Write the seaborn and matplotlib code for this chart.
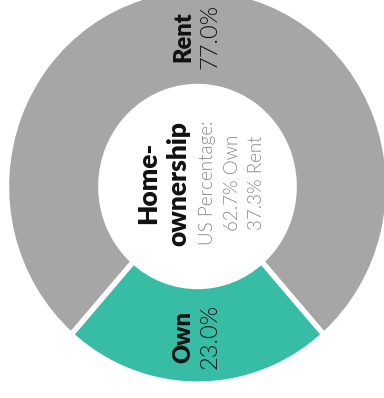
import numpy as np
import matplotlib
matplotlib.use("Agg")
import matplotlib.pyplot as plt
import seaborn as sns

# Homeownership split
categories = ["Rent", "Own"]
shares = [77.0, 23.0]
colors = ["#a6a6a6", "#37bca5"]
title_lines = ["Home-", "ownership"]
note_lines = ["US Percentage:", "62.7% Own", "37.3% Rent"]

sns.set_style("white")
plt.rcParams["font.family"] = ["Lato", "DejaVu Sans"]

W, H = 384, 398
fig = plt.figure(figsize=(W / 100, H / 100), dpi=100)
ax = fig.add_axes([0, 0, 1, 1])

# ring is drawn in unit coordinates; the axes stretch it slightly taller than wide
cx_px, cy_px = 197.5, 186.5
sx, sy = 188.5, 195.0
lw = 3.8

own_span = shares[1] * 3.6
start = 270 - own_span / 2 - shares[0] * 3.6

wedges, _ = ax.pie(
    shares, colors=colors, startangle=start, counterclock=True,
    center=(0, 0), radius=1.013, frame=True,
    wedgeprops=dict(width=0.50, edgecolor="white", linewidth=lw),
)
ax.set_aspect("auto")
ax.set_xlim(-cx_px / sx, (W - cx_px) / sx)
ax.set_ylim((cy_px - H) / sy, cy_px / sy)
ax.axis("off")

def px(dx):
    return dx / sx

# Segment labels, rotated to read bottom-to-top
r_mid = 0.77
for w, name, val in zip(wedges, categories, shares):
    ang = np.deg2rad((w.theta1 + w.theta2) / 2)
    x = r_mid * np.cos(ang)
    y = r_mid * np.sin(ang)
    ax.text(x - px(14), y, name, rotation=90, ha="center", va="center",
            fontsize=17, fontweight=800, color="#111111")
    ax.text(x + px(13), y, f"{val:.1f}%", rotation=90, ha="center", va="center",
            fontsize=17, fontweight=300, color="#111111")

# Centre title and national figures
yc = (cy_px - 183) / sy
for x, line in zip([148, 178], title_lines):
    ax.text(px(x - cx_px), yc, line, rotation=90, ha="center", va="center",
            fontsize=19, fontweight=800, color="#111111")
for x, line in zip([208, 233, 257], note_lines):
    ax.text(px(x - cx_px), yc, line, rotation=90, ha="center", va="center",
            fontsize=13.5, fontweight=300, color="#8a8a8a")

fig.savefig("out.png", dpi=100)
